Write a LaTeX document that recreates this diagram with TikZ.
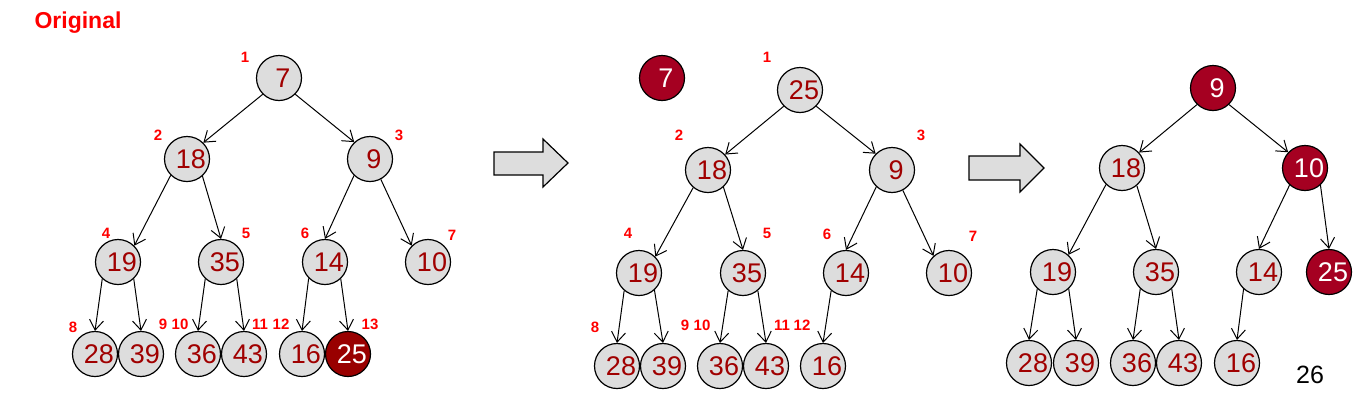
\documentclass[tikz,border=0pt]{standalone}
\usepackage{fontspec}
\setmainfont{Liberation Sans}
\usetikzlibrary{arrows.meta}
\definecolor{nodegray}{HTML}{DDDDDD}
\definecolor{numred}{HTML}{A00000}
\definecolor{hotA}{HTML}{990000}
\definecolor{hotB}{HTML}{A50021}
\definecolor{idxred}{HTML}{FF0000}
\tikzset{
  hn/.style={circle, draw=black, line width=1.2pt, fill=nodegray, minimum size=45pt, inner sep=0pt},
  hot/.style={hn, fill=hotB},
  hotdark/.style={hn, fill=hotA},
  num/.style={xshift=4pt, text=numred, font=\fontsize{27}{27}\selectfont, inner sep=0pt},
  wnum/.style={num, text=white},
  idx/.style={text=idxred, font=\bfseries\fontsize{15}{15}\selectfont, inner sep=0pt},
  edge/.style={line width=1pt, -{Straight Barb[length=10pt,width=14pt]}},
  blockarrow/.style={draw=black, line width=1.2pt, fill=nodegray},
}
\begin{document}
\begin{tikzpicture}[x=1pt,y=-1pt]
\useasboundingbox (0,0) rectangle (1355,413);
\node[text=idxred, font=\bfseries\fontsize{23}{23}\selectfont, inner sep=0pt] (title) at (78,23) {Original};
% ---------- left tree ----------
\node[hn, label={[num]center:7}] (a1) at (279,78) {};
\node[hn, label={[num]center:18}] (a2) at (187,159) {};
\node[hn, label={[num]center:9}] (a3) at (370,159) {};
\node[hn, label={[num]center:19}] (a4) at (118,262) {};
\node[hn, label={[num]center:35}] (a5) at (221,262) {};
\node[hn, label={[num]center:14}] (a6) at (325,262) {};
\node[hn, label={[num]center:10}] (a7) at (428,262) {};
\node[hn, label={[num]center:28}] (a8) at (95,354) {};
\node[hn, label={[num]center:39}] (a9) at (141,354) {};
\node[hn, label={[num]center:36}] (a10) at (198,354) {};
\node[hn, label={[num]center:43}] (a11) at (244,354) {};
\node[hn, label={[num]center:16}] (a12) at (302,354) {};
\node[hotdark, label={[wnum]center:25}] (a13) at (348,354) {};
\draw[edge] (a1.225) -- (a2.45);
\draw[edge] (a1.315) -- (a3.133);
\draw[edge] (a2.225) -- (a4.45);
\draw[edge] (a2.312) -- (a5.90);
\draw[edge] (a3.226) -- (a6.90);
\draw[edge] (a3.298) -- (a7.135);
\draw[edge] (a4.227) -- (a8.90);
\draw[edge] (a4.313) -- (a9.90);
\draw[edge] (a5.227) -- (a10.90);
\draw[edge] (a5.313) -- (a11.90);
\draw[edge] (a6.225) -- (a12.90);
\draw[edge] (a6.313) -- (a13.90);
\node[idx] (ai1) at (245,57) {1};
\node[idx] (ai2) at (158,135) {2};
\node[idx] (ai3) at (399,135) {3};
\node[idx] (ai4) at (106,233) {4};
\node[idx] (ai5) at (246,233) {5};
\node[idx] (ai6) at (305,233) {6};
\node[idx] (ai7) at (452,235) {7};
\node[idx] (ai8) at (73,327) {8};
\node[idx] (ai9) at (163,324) {9};
\node[idx] (ai10) at (180,324) {10};
\node[idx] (ai11) at (260,324) {11};
\node[idx] (ai12) at (281,324) {12};
\node[idx] (ai13) at (370,324) {13};
% ---------- block arrow 1 ----------
\draw[blockarrow] (494,152) -- (543,152) -- (543,139) -- (568,163) -- (543,187) -- (543,175) -- (494,175) -- cycle;
% ---------- middle tree ----------
\node[hot, label={[wnum]center:7}] (b0) at (662,78) {};
\node[hn, label={[num]center:25}] (b1) at (800,90) {};
\node[hn, label={[num]center:18}] (b2) at (708,170) {};
\node[hn, label={[num]center:9}] (b3) at (892,170) {};
\node[hn, label={[num]center:19}] (b4) at (639,273) {};
\node[hn, label={[num]center:35}] (b5) at (743,273) {};
\node[hn, label={[num]center:14}] (b6) at (846,273) {};
\node[hn, label={[num]center:10}] (b7) at (949,273) {};
\node[hn, label={[num]center:28}] (b8) at (617,366) {};
\node[hn, label={[num]center:39}] (b9) at (663,366) {};
\node[hn, label={[num]center:36}] (b10) at (720,366) {};
\node[hn, label={[num]center:43}] (b11) at (766,366) {};
\node[hn, label={[num]center:16}] (b12) at (823,366) {};
\draw[edge] (b1.225) -- (b2.42);
\draw[edge] (b1.315) -- (b3.135);
\draw[edge] (b2.230) -- (b4.45);
\draw[edge] (b2.312) -- (b5.90);
\draw[edge] (b3.227) -- (b6.90);
\draw[edge] (b3.298) -- (b7.132);
\draw[edge] (b4.230) -- (b8.90);
\draw[edge] (b4.312) -- (b9.90);
\draw[edge] (b5.230) -- (b10.90);
\draw[edge] (b5.310) -- (b11.90);
\draw[edge] (b6.230) -- (b12.90);
\node[idx] (bi1) at (767,57) {1};
\node[idx] (bi2) at (679,135) {2};
\node[idx] (bi3) at (921,135) {3};
\node[idx] (bi4) at (628,233) {4};
\node[idx] (bi5) at (767,233) {5};
\node[idx] (bi6) at (827,234) {6};
\node[idx] (bi7) at (973,236) {7};
\node[idx] (bi8) at (595,327) {8};
\node[idx] (bi9) at (685,325) {9};
\node[idx] (bi10) at (702,325) {10};
\node[idx] (bi11) at (782,325) {11};
\node[idx] (bi12) at (802,325) {12};
% ---------- block arrow 2 ----------
\draw[blockarrow] (969,156) -- (1020,156) -- (1020,144) -- (1044,168) -- (1020,192) -- (1020,180) -- (969,180) -- cycle;
% ---------- right tree ----------
\node[hot, label={[wnum]center:9}] (c1) at (1213,88) {};
\node[hn, label={[num]center:18}] (c2) at (1122,168) {};
\node[hot, label={[wnum]center:10}] (c3) at (1305,168) {};
\node[hn, label={[num]center:19}] (c4) at (1053,272) {};
\node[hn, label={[num]center:35}] (c5) at (1156,272) {};
\node[hn, label={[num]center:14}] (c6) at (1259,272) {};
\node[hot, label={[wnum]center:25}] (c7) at (1329,272) {};
\node[hn, label={[num]center:28}] (c8) at (1029,363) {};
\node[hn, label={[num]center:39}] (c9) at (1076,363) {};
\node[hn, label={[num]center:36}] (c10) at (1133,363) {};
\node[hn, label={[num]center:43}] (c11) at (1179,363) {};
\node[hn, label={[num]center:16}] (c12) at (1237,363) {};
\draw[edge] (c1.226) -- (c2.42);
\draw[edge] (c1.314) -- (c3.137);
\draw[edge] (c2.226) -- (c4.48);
\draw[edge] (c2.310) -- (c5.90);
\draw[edge] (c3.228) -- (c6.90);
\draw[edge] (c3.312) -- (c7.90);
\draw[edge] (c4.227) -- (c8.90);
\draw[edge] (c4.313) -- (c9.90);
\draw[edge] (c5.227) -- (c10.90);
\draw[edge] (c5.313) -- (c11.90);
\draw[edge] (c6.228) -- (c12.90);
\node[font=\fontsize{25}{25}\selectfont, inner sep=0pt] (pg) at (1310,375) {26};
\end{tikzpicture}
\end{document}
